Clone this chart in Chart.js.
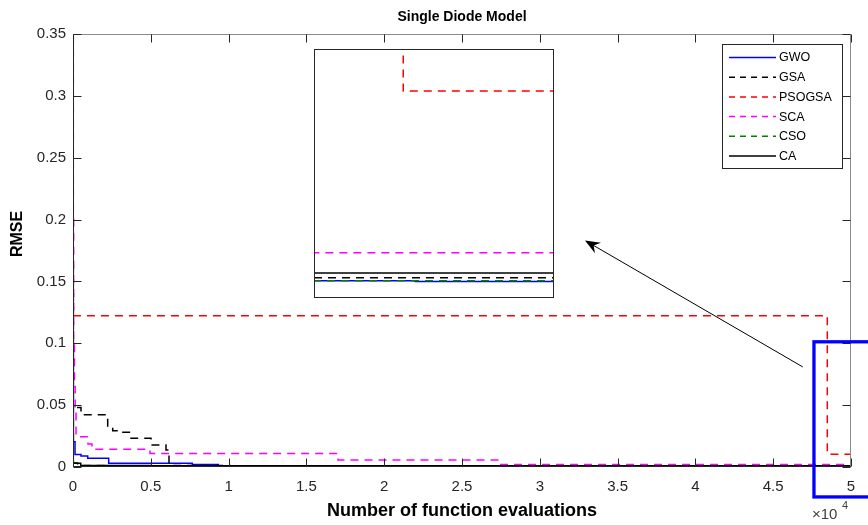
<!DOCTYPE html>
<html>
<head>
<meta charset="utf-8">
<script src="https://cdn.jsdelivr.net/npm/chart.js@4.4.1/dist/chart.umd.min.js"></script>
<style>
  html, body { margin: 0; padding: 0; background: #fff; }
  #wrap { position: relative; width: 868px; height: 525px; }
  #main { position: absolute; left: 0; top: 0; }
  #inset { position: absolute; left: 314px; top: 49px; background: #fff; }
</style>
</head>
<body>
<div id="wrap">
  <canvas id="main" width="868" height="525"></canvas>
  <canvas id="inset" width="240" height="249"></canvas>
</div>
<script>
// Convergence curves: function evaluations -> best RMSE so far
const gwoEvals = [0, 20, 130, 514, 945, 2294, 7667, 9338, 16947, 48540, 50000];
const gwoRmse  = [0.14, 0.0204, 0.0102, 0.0089, 0.007, 0.003, 0.0021, 0.0009, 0.000583, 0.000545, 0.000545];

const gsaEvals = [0, 15, 514, 2230, 2551, 2956, 3728, 5013, 5977, 6170, 10090, 20000, 50000];
const gsaRmse  = [0.158, 0.0481, 0.0422, 0.032, 0.0293, 0.028, 0.0232, 0.0177, 0.0137, 0.0013, 0.0009, 0.000737, 0.000737];

const psoEvals = [0, 20, 48476, 50000];
const psoRmse  = [0.36, 0.1223, 0.01034, 0.01034];

const scaEvals = [0, 40, 90, 140, 193, 964, 1220, 4949, 17030, 27378, 50000];
const scaRmse  = [0.2, 0.1, 0.065, 0.047, 0.0245, 0.0186, 0.0143, 0.011, 0.0056, 0.00202, 0.00202];

const csoEvals = [0, 25, 300, 2000, 50000];
const csoRmse  = [0.163, 0.0035, 0.0012, 0.000583, 0.000583];

const caEvals = [0, 20, 500, 5000, 50000];
const caRmse  = [0.09, 0.003, 0.0012, 0.00099, 0.00099];

const xTicks = [0, 5000, 10000, 15000, 20000, 25000, 30000, 35000, 40000, 45000, 50000];
const yTicks = [0, 0.05, 0.1, 0.15, 0.2, 0.25, 0.3, 0.35];

// zoomed window shown in the inset
const insetEvalMin = 48000, insetEvalMax = 49280;
const insetRmseMin = -0.0003, insetRmseMax = 0.0125;

// annotation: box around the zoomed region and arrow to the inset (data units)
const zoomBox = { x0: 47620, x1: 51500, y0: -0.0242, y1: 0.1012 };
const arrowFrom = { x: 46900, y: 0.0809 };
const arrowTo = { x: 32905, y: 0.1831 };

const series = [
  { name: 'GWO',    evals: gwoEvals, rmse: gwoRmse, color: '#0000ff', dashed: false },
  { name: 'GSA',    evals: gsaEvals, rmse: gsaRmse, color: '#000000', dashed: true },
  { name: 'PSOGSA', evals: psoEvals, rmse: psoRmse, color: '#ff0000', dashed: true },
  { name: 'SCA',    evals: scaEvals, rmse: scaRmse, color: '#ff00ff', dashed: true },
  { name: 'CSO',    evals: csoEvals, rmse: csoRmse, color: '#008000', dashed: true },
  { name: 'CA',     evals: caEvals,  rmse: caRmse,  color: '#000000', dashed: false }
];

Chart.defaults.font.family = "'Liberation Sans', Arial, sans-serif";
Chart.defaults.color = '#262626';

function makeDatasets() {
  return series.map((s, i) => ({
    label: s.name,
    data: s.evals.map((x, k) => ({ x: x, y: s.rmse[k] })),
    borderColor: s.color,
    backgroundColor: s.color,
    borderWidth: 1.5,
    borderDash: s.dashed ? [8, 6] : [],
    stepped: true,
    pointRadius: 0,
    fill: false,
    order: series.length - i   // later series drawn on top, like matlab
  }));
}

function fmt(v) {
  return String(+v.toFixed(2));
}

// box, inward ticks, ylabel, exponent, legend, zoom box and arrow
const matlabAxes = {
  id: 'matlabAxes',
  afterDraw(chart) {
    const { ctx, chartArea: a, scales: { x, y } } = chart;
    ctx.save();
    ctx.lineWidth = 1;
    ctx.setLineDash([]);
    const L = Math.round(a.left) + 0.5, R = Math.round(a.right) - 0.5;
    const T = Math.round(a.top) + 0.5, B = Math.round(a.bottom) - 0.5;
    // top and right edges come out lighter in the original
    ctx.strokeStyle = '#8a8a8a';
    ctx.beginPath();
    ctx.moveTo(L, T); ctx.lineTo(R, T); ctx.lineTo(R, B);
    ctx.stroke();
    ctx.strokeStyle = '#262626';
    ctx.beginPath();
    ctx.moveTo(L, T); ctx.lineTo(L, B); ctx.lineTo(R, B);
    xTicks.forEach(v => {
      const px = Math.round(x.getPixelForValue(v)) + 0.5;
      ctx.moveTo(px, B); ctx.lineTo(px, B - 8);
      ctx.moveTo(px, T); ctx.lineTo(px, T + 8);
    });
    yTicks.forEach(v => {
      const py = Math.round(y.getPixelForValue(v)) + 0.5;
      ctx.moveTo(L, py); ctx.lineTo(L + 8, py);
      ctx.moveTo(R, py); ctx.lineTo(R - 8, py);
    });
    ctx.stroke();

    // y label
    ctx.fillStyle = '#000';
    ctx.font = "bold 16px 'Liberation Sans', Arial, sans-serif";
    ctx.textAlign = 'center';
    ctx.textBaseline = 'middle';
    ctx.save();
    ctx.translate(18, 234);
    ctx.rotate(-Math.PI / 2);
    ctx.fillText('RMSE', 0, 0);
    ctx.restore();

    // x10^4 exponent
    ctx.fillStyle = '#404040';
    ctx.textAlign = 'left';
    ctx.textBaseline = 'alphabetic';
    ctx.font = "15px 'Liberation Sans', Arial, sans-serif";
    ctx.fillText('\u00d710', 812, 519);
    ctx.font = "11px 'Liberation Sans', Arial, sans-serif";
    ctx.fillText('4', 842, 509);

    // legend
    const lx = 722.5, ly = 44.5, lw = 120, lh = 124;
    ctx.fillStyle = '#fff';
    ctx.fillRect(lx, ly, lw, lh);
    ctx.strokeStyle = '#262626';
    ctx.lineWidth = 1;
    ctx.strokeRect(lx, ly, lw, lh);
    ctx.font = "12.5px 'Liberation Sans', Arial, sans-serif";
    ctx.textBaseline = 'middle';
    series.forEach((s, i) => {
      const ry = 57.5 + i * 19.7;
      ctx.strokeStyle = s.color;
      ctx.lineWidth = 1.5;
      ctx.setLineDash(s.dashed ? [6, 5] : []);
      ctx.beginPath();
      ctx.moveTo(729, ry); ctx.lineTo(776, ry);
      ctx.stroke();
      ctx.fillStyle = '#000';
      ctx.fillText(s.name, 779, ry + 0.5);
    });
    ctx.setLineDash([]);

    // zoom box
    const bx0 = x.getPixelForValue(zoomBox.x0), bx1 = x.getPixelForValue(zoomBox.x1);
    const by0 = y.getPixelForValue(zoomBox.y0), by1 = y.getPixelForValue(zoomBox.y1);
    ctx.strokeStyle = '#0000ff';
    ctx.lineWidth = 3.3;
    ctx.strokeRect(bx0, by1, bx1 - bx0, by0 - by1);

    // arrow
    const ax0 = x.getPixelForValue(arrowFrom.x), ay0 = y.getPixelForValue(arrowFrom.y);
    const ax1 = x.getPixelForValue(arrowTo.x), ay1 = y.getPixelForValue(arrowTo.y);
    const ang = Math.atan2(ay1 - ay0, ax1 - ax0);
    ctx.strokeStyle = '#000';
    ctx.lineWidth = 1;
    ctx.beginPath();
    ctx.moveTo(ax0, ay0);
    ctx.lineTo(ax1 - 8 * Math.cos(ang), ay1 - 8 * Math.sin(ang));
    ctx.stroke();
    const head = 15, half = 6, notch = 10;
    const bxh = ax1 - head * Math.cos(ang), byh = ay1 - head * Math.sin(ang);
    ctx.fillStyle = '#000';
    ctx.beginPath();
    ctx.moveTo(ax1, ay1);
    ctx.lineTo(bxh - half * Math.sin(ang), byh + half * Math.cos(ang));
    ctx.lineTo(ax1 - notch * Math.cos(ang), ay1 - notch * Math.sin(ang));
    ctx.lineTo(bxh + half * Math.sin(ang), byh - half * Math.cos(ang));
    ctx.closePath();
    ctx.fill();
    ctx.restore();
  }
};

const mainChart = new Chart(document.getElementById('main'), {
  type: 'line',
  data: { datasets: makeDatasets() },
  options: {
    responsive: false,
    animation: false,
    events: [],
    layout: { padding: { left: 0, right: 17, top: 0, bottom: 0 } },
    plugins: {
      legend: { display: false },
      tooltip: { enabled: false },
      title: {
        display: true,
        text: 'Single Diode Model',
        fullSize: false,
        color: '#000',
        font: { size: 14, weight: 'bold' },
        padding: { top: 8.6, bottom: 8.6 }
      }
    },
    scales: {
      x: {
        type: 'linear',
        min: 0,
        max: 50000,
        afterBuildTicks: s => { s.ticks = xTicks.map(v => ({ value: v })); },
        afterFit: s => { s.height = 58; },
        grid: { display: false, drawTicks: false },
        border: { display: false },
        ticks: {
          autoSkip: false,
          maxRotation: 0,
          padding: 11,
          font: { size: 15 },
          color: '#262626',
          callback: v => fmt(v / 10000)
        },
        title: {
          display: true,
          text: 'Number of function evaluations',
          color: '#000',
          font: { size: 18, weight: 'bold' },
          padding: { top: 0, bottom: 3 }
        }
      },
      y: {
        min: 0,
        max: 0.35,
        afterBuildTicks: s => { s.ticks = yTicks.map(v => ({ value: v })); },
        afterFit: s => { s.width = 73; },
        grid: { display: false, drawTicks: false },
        border: { display: false },
        ticks: {
          padding: 7,
          font: { size: 15 },
          color: '#262626',
          callback: v => fmt(v)
        }
      }
    }
  },
  plugins: [matlabAxes]
});

// inset: same curves, zoomed on the last evaluations
const insetBox = {
  id: 'insetBox',
  afterDraw(chart) {
    const { ctx, width, height } = chart;
    ctx.save();
    ctx.strokeStyle = '#262626';
    ctx.lineWidth = 1;
    ctx.strokeRect(0.5, 0.5, width - 1, height - 1);
    ctx.restore();
  }
};

const insetChart = new Chart(document.getElementById('inset'), {
  type: 'line',
  data: { datasets: makeDatasets() },
  options: {
    responsive: false,
    animation: false,
    events: [],
    layout: { padding: 0 },
    plugins: { legend: { display: false }, tooltip: { enabled: false } },
    scales: {
      x: { type: 'linear', display: false, min: insetEvalMin, max: insetEvalMax },
      y: { display: false, min: insetRmseMin, max: insetRmseMax }
    }
  },
  plugins: [insetBox]
});
</script>
</body>
</html>
